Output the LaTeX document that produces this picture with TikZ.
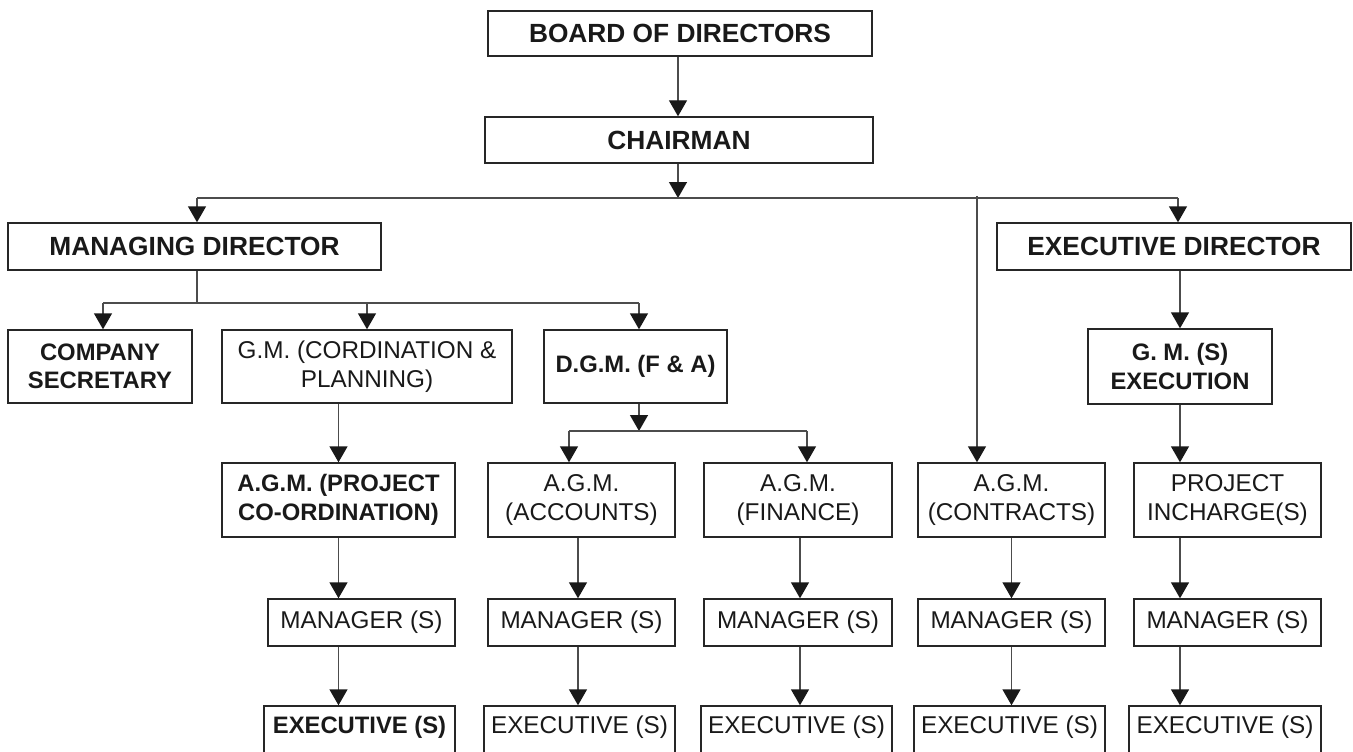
\documentclass[tikz,border=0pt]{standalone}
\usepackage{fontspec}
\setmainfont{Liberation Sans}
\usetikzlibrary{arrows.meta}
\newcommand{\regf}{\fontsize{24.3}{28.5}\selectfont}
\newcommand{\boldf}{\fontsize{23.8}{28.5}\selectfont\bfseries}
\newcommand{\bigf}{\fontsize{26.3}{30}\selectfont\bfseries}
\tikzset{
  box/.style={draw=black!85, line width=1.4pt, inner sep=0pt, align=center, text=black!90, font=\regf},
  bbox/.style={box, font=\boldf},
  hbox/.style={box, font=\bigf},
  ebox/.style={box, text height=27.5pt, text depth=36.5pt},
  conn/.style={line width=1.4pt, draw=black!70},
  arr/.style={conn, -{Triangle[width=18pt,length=16pt,color=black!90]}}
}
\begin{document}
\begin{tikzpicture}[x=1pt,y=-1pt]
\useasboundingbox (0,0) rectangle (1353,752);
\clip (0,0) rectangle (1353,752);
% top levels
\node[hbox, minimum width=384, minimum height=45] (board) at (680,33.5) {BOARD OF DIRECTORS};
\node[hbox, minimum width=388, minimum height=46] (chair) at (679,140) {CHAIRMAN};
\node[hbox, minimum width=373, minimum height=47] (md) at (194.5,246.5) {MANAGING DIRECTOR};
\node[hbox, minimum width=354, minimum height=47] (ed) at (1174,246.5) {EXECUTIVE DIRECTOR};
% level 3
\node[bbox, minimum width=184, minimum height=73] (cs) at (100,366.5) {COMPANY\\SECRETARY};
\node[box, minimum width=290, minimum height=73] (gm) at (367,366.5) {G.M. (CORDINATION \&\\PLANNING)};
\node[bbox, minimum width=183, minimum height=73] (dgm) at (635.5,366.5) {D.G.M. (F \& A)};
\node[bbox, minimum width=184, minimum height=75] (gms) at (1180,366.5) {G. M. (S)\\EXECUTION};
% level 4
\node[bbox, minimum width=233, minimum height=74] (agmpc) at (338.5,500) {A.G.M. (PROJECT\\CO-ORDINATION)};
\node[box, minimum width=187, minimum height=74] (agmacc) at (581.5,500) {A.G.M.\\(ACCOUNTS)};
\node[box, minimum width=188, minimum height=74] (agmfin) at (798,500) {A.G.M.\\(FINANCE)};
\node[box, minimum width=187, minimum height=74] (agmcon) at (1011.5,500) {A.G.M.\\(CONTRACTS)};
\node[box, minimum width=187, minimum height=74] (pi) at (1227.5,500) {PROJECT\\INCHARGE(S)};
% managers
\node[box, minimum width=187, minimum height=47] (mgrpc) at (361.5,622.5) {MANAGER (S)};
\node[box, minimum width=187, minimum height=47] (mgracc) at (581.5,622.5) {MANAGER (S)};
\node[box, minimum width=188, minimum height=47] (mgrfin) at (798,622.5) {MANAGER (S)};
\node[box, minimum width=187, minimum height=47] (mgrcon) at (1011.5,622.5) {MANAGER (S)};
\node[box, minimum width=187, minimum height=47] (mgrpi) at (1227.5,622.5) {MANAGER (S)};
% executives
\node[ebox, font=\boldf, minimum width=191] (expc) at (359.5,738) {EXECUTIVE (S)};
\node[ebox, minimum width=191] (exacc) at (579.5,738) {EXECUTIVE (S)};
\node[ebox, minimum width=191] (exfin) at (796.5,738) {EXECUTIVE (S)};
\node[ebox, minimum width=191] (excon) at (1009.5,738) {EXECUTIVE (S)};
\node[ebox, minimum width=192] (expi) at (1225,738) {EXECUTIVE (S)};
% bus coordinates
\coordinate (bus) at (678,198);
\coordinate (busL) at (197,198);
\coordinate (busR) at (1178,198);
\coordinate (busC) at (977,196);
\coordinate (mdbus) at (197,303);
\coordinate (mdbusL) at (103,303);
\coordinate (mdbusM) at (367,303);
\coordinate (mdbusR) at (639,303);
\coordinate (dbus) at (639,431);
\coordinate (dbusL) at (569,431);
\coordinate (dbusR) at (807,431);
% connectors
\draw[arr] (bus |- board.south) -- (bus |- chair.north);
\draw[arr] (bus |- chair.south) -- (bus);
\draw[conn] (busL) -- (busR);
\draw[arr] (busL) -- (busL |- md.north);
\draw[arr] (busR) -- (busR |- ed.north);
\draw[arr] (busC) -- (busC |- agmcon.north);
\draw[conn] (mdbus |- md.south) -- (mdbus);
\draw[conn] (mdbusL) -- (mdbusR);
\draw[arr] (mdbusL) -- (mdbusL |- cs.north);
\draw[arr] (mdbusM) -- (mdbusM |- gm.north);
\draw[arr] (mdbusR) -- (mdbusR |- dgm.north);
\draw[arr] (dbus |- dgm.south) -- (dbus);
\draw[conn] (dbusL) -- (dbusR);
\draw[arr] (dbusL) -- (dbusL |- agmacc.north);
\draw[arr] (dbusR) -- (dbusR |- agmfin.north);
\draw[arr] (agmpc.north |- gm.south) -- (agmpc.north);
\draw[arr] (agmpc.south) -- (agmpc.south |- mgrpc.north);
\draw[arr] (agmpc.south |- mgrpc.south) -- (agmpc.south |- expc.north);
\draw[arr] ([xshift=-3.5pt]agmacc.south) -- ([xshift=-3.5pt]agmacc.south |- mgracc.north);
\draw[arr] ([xshift=-3.5pt]mgracc.south) -- ([xshift=-3.5pt]mgracc.south |- exacc.north);
\draw[arr] ([xshift=2pt]agmfin.south) -- ([xshift=2pt]agmfin.south |- mgrfin.north);
\draw[arr] ([xshift=2pt]mgrfin.south) -- ([xshift=2pt]mgrfin.south |- exfin.north);
\draw[arr] (agmcon.south) -- (agmcon.south |- mgrcon.north);
\draw[arr] (mgrcon.south) -- (mgrcon.south |- excon.north);
\draw[arr] (gms.north |- ed.south) -- (gms.north);
\draw[arr] (gms.south) -- (gms.south |- pi.north);
\draw[arr] (gms.south |- pi.south) -- (gms.south |- mgrpi.north);
\draw[arr] (gms.south |- mgrpi.south) -- (gms.south |- expi.north);
\end{tikzpicture}
\end{document}
